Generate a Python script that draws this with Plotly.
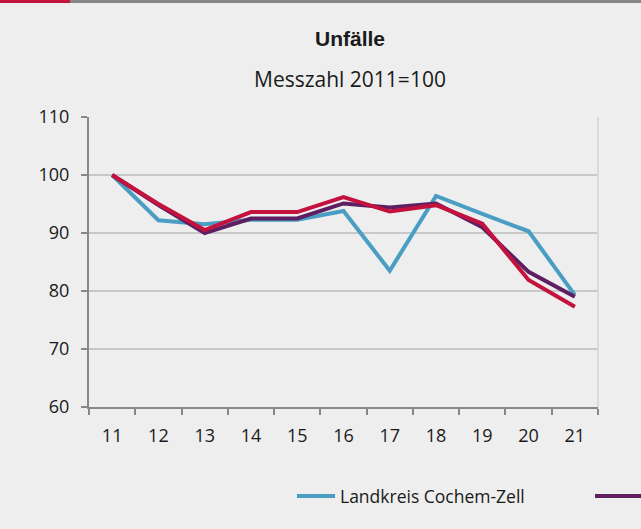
import plotly.graph_objects as go

years = ["11", "12", "13", "14", "15", "16", "17", "18", "19", "20", "21"]
cochem_zell = [100, 92.2, 91.5, 92.3, 92.3, 93.8, 83.5, 96.4, 93.3, 90.3, 79.3]
series_purple = [100, 94.8, 90.0, 92.5, 92.5, 95.1, 94.4, 95.1, 91.0, 83.3, 79.0]
series_red = [100, 95.0, 90.5, 93.6, 93.6, 96.2, 93.7, 94.8, 91.6, 81.9, 77.3]
y_ticks = [60, 70, 80, 90, 100, 110]

W, H = 641, 529
L, R, T, B = 89, 598, 117, 407
pw, ph = R - L, B - T


def px(X):
    return (X - L) / pw


def py(Y):
    return (B - Y) / ph


BG = "#edeeed"
FONT = "Open Sans"

fig = go.Figure()
fig.add_trace(go.Scatter(x=years, y=cochem_zell, mode="lines", name="Landkreis Cochem-Zell",
                         line=dict(color="#4a9ec3", width=4), legend="legend"))
# second legend entry runs off the right edge in the reference; its label is not visible
fig.add_trace(go.Scatter(x=years, y=series_purple, mode="lines", name="",
                         line=dict(color="#5e1f62", width=4), legend="legend2"))
fig.add_trace(go.Scatter(x=years, y=series_red, mode="lines", name="",
                         line=dict(color="#c4123f", width=4), showlegend=False))

shapes = [
    dict(type="rect", xref="paper", yref="paper", x0=px(0), x1=px(70), y0=py(3), y1=py(0),
         fillcolor="#c4123f", line=dict(width=0)),
    dict(type="rect", xref="paper", yref="paper", x0=px(70), x1=px(W), y0=py(3), y1=py(0),
         fillcolor="#878787", line=dict(width=0)),
    dict(type="line", xref="paper", yref="paper", x0=1, x1=1, y0=0, y1=1,
         line=dict(color="#dadada", width=2)),
]

fig.update_layout(
    width=W, height=H,
    margin=dict(l=L, r=W - R, t=T, b=H - B, autoexpand=False),
    paper_bgcolor=BG, plot_bgcolor=BG,
    font=dict(family=FONT, size=18, color="#1a1a1a"),
    showlegend=True,
    legend=dict(orientation="h", x=px(292), xanchor="left", y=py(478), yanchor="top",
                itemwidth=38, bgcolor="rgba(0,0,0,0)", font=dict(size=17.5, family=FONT)),
    legend2=dict(orientation="h", x=px(590), xanchor="left", y=py(478), yanchor="top",
                 itemwidth=60, bgcolor="rgba(0,0,0,0)", font=dict(size=17.5, family=FONT)),
    shapes=shapes,
    annotations=[
        dict(text="<b>Unfälle</b>", xref="paper", yref="paper", x=px(350), y=py(38),
             showarrow=False, font=dict(family="Liberation Sans", size=21, color="#1a1a1a"),
             xanchor="center", yanchor="middle"),
        dict(text="Messzahl 2011=100", xref="paper", yref="paper", x=px(350), y=py(79),
             showarrow=False, font=dict(family=FONT, size=21, color="#1a1a1a"),
             xanchor="center", yanchor="middle"),
    ],
)

fig.update_xaxes(type="category", tickson="boundaries", ticks="outside", ticklen=6,
                 tickcolor="#888888", tickwidth=2, showline=True, linecolor="#888888",
                 linewidth=2, showgrid=False, tickfont=dict(size=18, family=FONT),
                 range=[-0.5, 10.5], ticklabelstandoff=11)
fig.update_yaxes(range=[60, 110], tickvals=y_ticks, ticks="outside", ticklen=6,
                 tickcolor="#888888", tickwidth=2, showline=True, linecolor="#888888",
                 linewidth=2, showgrid=True, gridcolor="#c8c8c8", gridwidth=1.5,
                 zeroline=False, tickfont=dict(size=18, family=FONT), ticklabelstandoff=8)

fig.write_html("out.html", config={"displayModeBar": False},
               post_script="document.body.style.margin='0px';document.body.style.overflow='hidden';")
